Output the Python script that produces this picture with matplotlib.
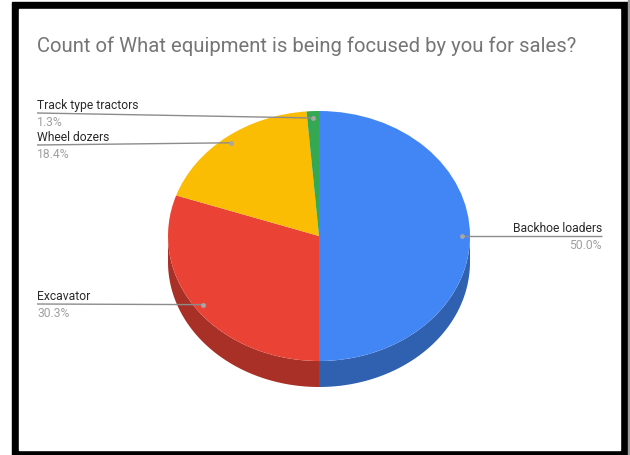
import numpy as np
import matplotlib.pyplot as plt
from matplotlib.patches import Rectangle, Polygon
from matplotlib.colors import to_rgb

plt.rcParams['font.family'] = ['Roboto', 'DejaVu Sans']

title = "Count of What equipment is being focused by you for sales?"
labels = ["Backhoe loaders", "Excavator", "Wheel dozers", "Track type tractors"]
counts = [38, 23, 14, 1]
colors = ["#4285F4", "#EA4335", "#FBBC04", "#34A853"]

W, H = 630, 456
fig = plt.figure(figsize=(W / 100, H / 100), dpi=100)

# background axes in pixel units: black frame around the chart
bg = fig.add_axes([0, 0, 1, 1], zorder=0)
bg.set_xlim(0, W)
bg.set_ylim(H, 0)
bg.axis('off')
bg.add_patch(Rectangle((12, 3), 616, 460, color='black'))
bg.add_patch(Rectangle((19, 10), 601, 441, color='white'))
bg.add_patch(Rectangle((628, 0), 2, H, color='#9a9a9a'))
bg.text(37, 46, title, fontsize=14.6, color='#757575', va='center', ha='left')

# pie axes: top face is an ellipse, depth below gives the 3D look
left, right, top, face_bottom, depth_px = 168, 470, 112, 362, 26
ry_px = (face_bottom - top) / 2
depth = depth_px / ry_px
pa = fig.add_axes([left / W, (H - face_bottom - depth_px) / H,
                   (right - left) / W, (face_bottom + depth_px - top) / H], zorder=1)
wedges, _ = pa.pie(counts, colors=colors, startangle=90, counterclock=False,
                   radius=1, wedgeprops=dict(linewidth=0, zorder=3))
pa.set_aspect('auto')
pa.set_xlim(-1, 1)
pa.set_ylim(-1 - depth, 1)
pa.axis('off')


def darker(c, f=0.72):
    return tuple(v * f for v in to_rgb(c))


# side walls: front (lower) half of each slice's rim
for w, c in zip(wedges, colors):
    for k in (-1, 0, 1):
        a = max(w.theta1, -180 + 360 * k)
        b = min(w.theta2, 360 * k)
        if b <= a:
            continue
        t = np.radians(np.linspace(a, b, 80))
        upper = np.column_stack([np.cos(t), np.sin(t)])
        lower = np.column_stack([np.cos(t[::-1]), np.sin(t[::-1]) - depth])
        pa.add_patch(Polygon(np.vstack([upper, lower]), closed=True,
                             facecolor=darker(c), edgecolor='none', zorder=2))

# labels with leader lines, drawn above the pie
la = fig.add_axes([0, 0, 1, 1], zorder=2)
la.set_xlim(0, W)
la.set_ylim(H, 0)
la.axis('off')

# (line end x, line y, side)
label_pos = {
    "Backhoe loaders": (602, 237, 'right'),
    "Excavator": (37, 305, 'left'),
    "Wheel dozers": (37, 146, 'left'),
    "Track type tractors": (37, 114, 'left'),
}
total = sum(counts)
to_px = pa.transData + la.transData.inverted()
for w, name, n in zip(wedges, labels, counts):
    mid = np.radians((w.theta1 + w.theta2) / 2)
    dx, dy = to_px.transform((0.945 * np.cos(mid), 0.945 * np.sin(mid)))
    lx, ly, side = label_pos[name]
    la.plot([lx, dx], [ly, dy], color='#8c8c8c', lw=1, solid_capstyle='butt')
    la.plot(dx, dy, 'o', ms=3.5, color='#a6a6a6', mec='none')
    la.text(lx, ly - 2, name, fontsize=8.7, color='#2a2a2a', ha=side, va='bottom')
    la.text(lx, ly + 2.5, f"{100 * n / total:.1f}%", fontsize=8.7, color='#a0a0a0',
            ha=side, va='top')

fig.savefig('out.png', dpi=100)
